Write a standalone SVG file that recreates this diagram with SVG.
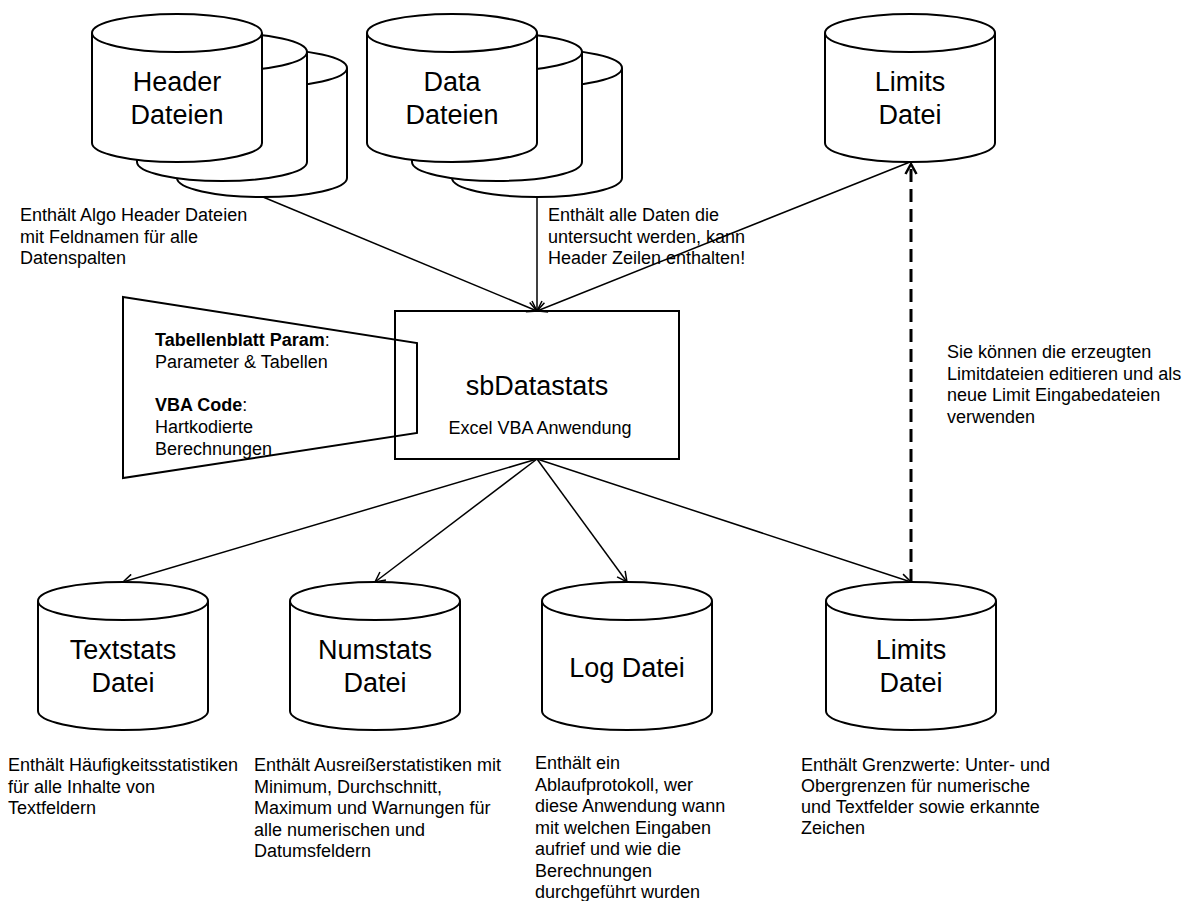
<svg xmlns="http://www.w3.org/2000/svg" xmlns:xlink="http://www.w3.org/1999/xlink" width="1187" height="901" viewBox="0 0 1187 901">
<style>
.shape{fill:#fff;stroke:#000;stroke-width:2}
.open{fill:none;stroke:#000;stroke-width:2}
.edge{fill:none;stroke:#000;stroke-width:1.5}
.dash{fill:none;stroke:#000;stroke-width:3;stroke-dasharray:13 7}
text{font-family:"Liberation Sans",Arial,Helvetica,sans-serif;fill:#000}
.big{font-size:27px;text-anchor:middle}
.title{font-size:27px;text-anchor:middle}
.sub{font-size:18px;text-anchor:middle}
.note{font-size:18px}
.b{font-weight:bold}
</style>
<defs>
<g id="cyl">
<path class="shape" d="M0,19 A85,19 0 0 1 170,19 L170,129 A85,19 0 0 1 0,129 Z"/>
<path class="open" d="M0,19 A85,19 0 0 0 170,19"/>
</g>
<marker id="arr" viewBox="0 0 12 12" refX="11" refY="6" markerWidth="12" markerHeight="12" markerUnits="userSpaceOnUse" orient="auto">
<path d="M1,1 L11,6 L1,11" fill="none" stroke="#000" stroke-width="1.5"/>
</marker>
<marker id="arrd" viewBox="0 0 14 14" refX="12" refY="7" markerWidth="14" markerHeight="14" markerUnits="userSpaceOnUse" orient="auto">
<path d="M2,1.5 L12,7 L2,12.5" fill="none" stroke="#000" stroke-width="2.5"/>
</marker>
</defs>
<rect width="1187" height="901" fill="#fff"/>

<g id="connectors">
<line class="edge" x1="263" y1="197" x2="537" y2="311" marker-end="url(#arr)"/>
<line class="edge" x1="537" y1="197" x2="537" y2="311" marker-end="url(#arr)"/>
<line class="edge" x1="910" y1="162" x2="537" y2="311" marker-end="url(#arr)"/>
<line class="edge" x1="537" y1="459" x2="123" y2="582" marker-end="url(#arr)"/>
<line class="edge" x1="537" y1="459" x2="375" y2="582" marker-end="url(#arr)"/>
<line class="edge" x1="537" y1="459" x2="627" y2="582" marker-end="url(#arr)"/>
<line class="edge" x1="537" y1="459" x2="911" y2="582" marker-end="url(#arr)"/>
<line class="dash" x1="911" y1="582" x2="911" y2="164" marker-end="url(#arrd)"/>
</g>

<g id="header-dateien">
<use xlink:href="#cyl" x="177" y="49"/>
<use xlink:href="#cyl" x="137" y="33"/>
<use xlink:href="#cyl" x="92" y="14"/>
<text class="big" x="177" y="91">Header</text>
<text class="big" x="177" y="124">Dateien</text>
</g>

<g id="data-dateien">
<use xlink:href="#cyl" x="452" y="49"/>
<use xlink:href="#cyl" x="412" y="33"/>
<use xlink:href="#cyl" x="367" y="14"/>
<text class="big" x="452" y="91">Data</text>
<text class="big" x="452" y="124">Dateien</text>
</g>

<g id="limits-input">
<use xlink:href="#cyl" x="825" y="14"/>
<text class="big" x="910" y="91">Limits</text>
<text class="big" x="910" y="124">Datei</text>
</g>

<g id="note-header">
<text class="note" x="20" y="221">Enthält Algo Header Dateien</text>
<text class="note" x="20" y="242.5">mit Feldnamen für alle</text>
<text class="note" x="20" y="264">Datenspalten</text>
</g>

<g id="note-data">
<text class="note" x="548" y="221">Enthält alle Daten die</text>
<text class="note" x="548" y="242.5">untersucht werden, kann</text>
<text class="note" x="548" y="264">Header Zeilen enthalten!</text>
</g>

<g id="sbdatastats">
<rect class="open" x="395" y="311" width="284" height="148"/>
<text class="title" x="537" y="395">sbDatastats</text>
<text class="sub" x="540" y="434">Excel VBA Anwendung</text>
</g>

<g id="config">
<polygon class="open" points="123,297 417,343 417,433 123,478"/>
<text class="note" x="155" y="346"><tspan class="b">Tabellenblatt Param</tspan>:</text>
<text class="note" x="155" y="368">Parameter &amp; Tabellen</text>
<text class="note" x="155" y="411"><tspan class="b">VBA Code</tspan>:</text>
<text class="note" x="155" y="433">Hartkodierte</text>
<text class="note" x="155" y="455">Berechnungen</text>
</g>

<g id="note-limits-edit">
<text class="note" x="947" y="358">Sie können die erzeugten</text>
<text class="note" x="947" y="379.5">Limitdateien editieren und als</text>
<text class="note" x="947" y="401">neue Limit Eingabedateien</text>
<text class="note" x="947" y="422.5">verwenden</text>
</g>

<g id="textstats">
<use xlink:href="#cyl" x="38" y="582"/>
<text class="big" x="123" y="659">Textstats</text>
<text class="big" x="123" y="692">Datei</text>
</g>

<g id="numstats">
<use xlink:href="#cyl" x="290" y="582"/>
<text class="big" x="375" y="659">Numstats</text>
<text class="big" x="375" y="692">Datei</text>
</g>

<g id="logdatei">
<use xlink:href="#cyl" x="542" y="582"/>
<text class="big" x="627" y="677">Log Datei</text>
</g>

<g id="limits-output">
<use xlink:href="#cyl" x="826" y="582"/>
<text class="big" x="911" y="659">Limits</text>
<text class="big" x="911" y="692">Datei</text>
</g>

<g id="note-textstats">
<text class="note" x="8" y="771">Enthält Häufigkeitsstatistiken</text>
<text class="note" x="8" y="792.5">für alle Inhalte von</text>
<text class="note" x="8" y="814">Textfeldern</text>
</g>

<g id="note-numstats">
<text class="note" x="254" y="771">Enthält Ausreißerstatistiken mit</text>
<text class="note" x="254" y="792.5">Minimum, Durchschnitt,</text>
<text class="note" x="254" y="814">Maximum und Warnungen für</text>
<text class="note" x="254" y="835.5">alle numerischen und</text>
<text class="note" x="254" y="857">Datumsfeldern</text>
</g>

<g id="note-log">
<text class="note" x="535" y="769">Enthält ein</text>
<text class="note" x="535" y="790.5">Ablaufprotokoll, wer</text>
<text class="note" x="535" y="812">diese Anwendung wann</text>
<text class="note" x="535" y="833.5">mit welchen Eingaben</text>
<text class="note" x="535" y="855">aufrief und wie die</text>
<text class="note" x="535" y="876.5">Berechnungen</text>
<text class="note" x="535" y="898">durchgeführt wurden</text>
</g>

<g id="note-limits">
<text class="note" x="801" y="771">Enthält Grenzwerte: Unter- und</text>
<text class="note" x="801" y="792">Obergrenzen für numerische</text>
<text class="note" x="801" y="813">und Textfelder sowie erkannte</text>
<text class="note" x="801" y="834">Zeichen</text>
</g>
</svg>
